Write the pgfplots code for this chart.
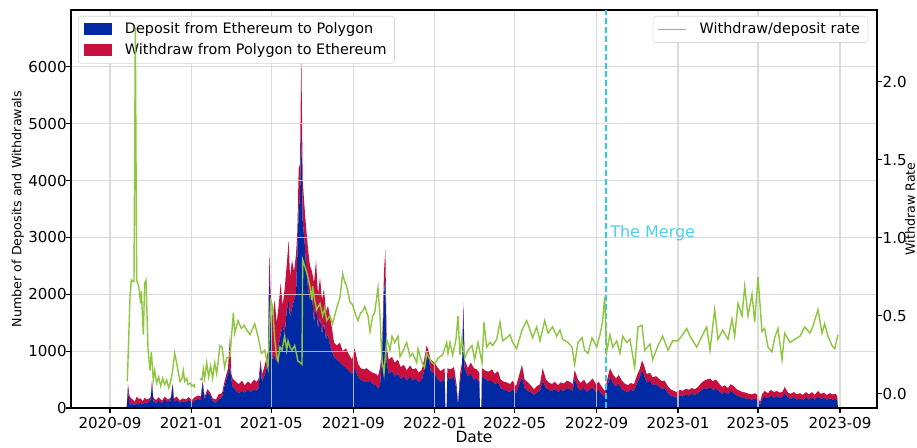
\documentclass[border=0pt]{standalone}
\usepackage{fontspec}
\setmainfont{DejaVu Sans}
\usepackage{pgfplots}
\pgfplotsset{compat=1.18}
\usepackage{pgfplotstable}

\definecolor{depblue}{HTML}{0029A3}
\definecolor{wdred}{HTML}{C8103E}
\definecolor{rategreen}{HTML}{8DC63F}
\definecolor{mergecyan}{HTML}{2EC8EA}
\definecolor{gridgray}{HTML}{D3D3D3}
\definecolor{legframe}{HTML}{D6D6D6}

\newcommand{\ticksize}{\fontsize{11.3}{13}\selectfont}
\newcommand{\legsize}{\fontsize{10.8}{12.5}\selectfont}
\newcommand{\ylabsize}{\fontsize{9.5}{11}\selectfont}

% daily bridge transactions: day = days since 2020-09-01
\pgfplotstableread{
day dep wd
0 0 0
25 0 0
27 350 70
29 80 150
31 60 120
34 70 80
37 50 60
40 80 120
43 60 100
46 90 80
49 70 50
52 100 80
55 80 70
58 100 60
61 140 50
63 450 30
65 120 60
69 90 50
73 130 60
78 80 50
82 150 50
87 100 50
91 130 50
94 400 20
96 110 60
100 140 60
105 90 40
109 120 50
114 100 50
118 140 50
123 90 50
127 130 60
132 160 60
136 140 60
139 440 30
142 150 50
146 280 50
150 230 50
154 120 50
159 90 60
163 160 80
168 180 80
172 400 80
177 600 100
180 740 540
182 500 100
184 380 140
189 300 160
193 260 160
198 300 180
202 270 130
207 320 150
211 280 140
216 330 170
220 300 160
223 350 170
226 790 60
228 450 150
231 550 150
234 650 200
237 900 100
239 2370 370
241 1600 400
244 850 750
247 900 1000
250 800 700
253 1100 700
256 1300 900
259 1450 350
262 1300 800
265 1700 800
268 1900 1050
270 1600 700
273 1750 850
276 1900 500
279 2000 700
281 2700 400
283 3500 700
285 3700 600
287 4900 1350
289 3300 700
292 2900 600
294 2500 700
297 2100 700
300 1900 600
303 2000 400
306 1500 700
309 1800 800
312 1400 600
315 1600 700
318 1300 600
321 1500 600
324 1200 500
327 1300 500
330 1100 500
333 1000 400
336 900 250
340 850 250
345 800 350
349 750 250
354 700 350
358 650 300
363 600 250
367 700 350
372 550 230
376 500 200
381 470 210
385 450 250
390 480 170
394 420 200
399 400 200
402 350 210
405 380 320
408 900 100
411 2000 400
413 2300 500
415 800 300
418 600 250
423 650 250
427 550 250
432 600 250
436 500 220
441 560 200
445 480 180
450 550 200
454 480 200
459 520 180
463 450 170
468 500 180
472 700 200
475 950 150
478 900 100
481 650 200
487 600 200
492 500 200
496 450 200
502 520 180
503 0 0
505 0 0
506 550 150
511 500 180
516 560 160
520 300 100
522 60 20
525 450 150
528 700 100
530 1700 150
532 700 150
537 550 150
541 600 200
546 500 200
550 520 160
554 450 170
555 0 0
557 0 0
558 550 150
564 500 150
568 470 170
573 480 200
577 420 180
582 450 200
586 350 150
591 320 140
595 300 150
600 280 140
604 330 150
609 260 120
613 380 170
618 550 210
622 350 150
627 300 150
631 280 120
636 230 100
640 270 110
645 300 120
649 480 220
654 350 150
658 320 130
663 300 120
667 330 130
672 280 120
676 320 130
681 300 130
685 350 130
690 330 130
694 300 120
697 520 150
702 350 150
706 300 140
711 360 140
715 280 140
720 330 140
724 360 160
729 280 140
733 320 140
738 240 130
742 200 100
747 420 140
750 550 150
754 450 150
759 380 140
763 420 160
768 330 150
772 300 130
777 280 120
781 320 120
786 300 120
790 420 140
795 550 150
798 670 170
801 580 170
805 450 150
810 480 140
814 400 140
819 420 140
823 380 140
828 330 140
832 350 130
837 260 120
841 220 110
846 200 100
850 180 100
855 220 100
859 200 100
864 240 100
868 220 100
873 250 100
877 230 100
882 260 110
886 300 130
891 350 130
895 330 170
900 360 160
904 320 150
909 340 160
913 300 140
918 250 120
922 280 120
927 240 110
931 300 120
936 260 120
940 220 110
945 200 100
949 180 100
954 170 100
958 160 90
963 150 90
967 170 90
972 140 90
975 60 40
978 150 90
982 200 100
987 170 90
991 220 100
996 180 100
1000 210 90
1005 170 100
1009 200 90
1012 260 110
1017 180 90
1021 160 90
1026 190 90
1030 150 90
1035 170 90
1039 140 90
1044 180 100
1048 150 90
1053 190 90
1057 140 90
1062 200 100
1066 160 90
1071 180 90
1075 140 90
1080 170 90
1084 150 90
1089 160 90
1091 130 70
1092 0 0
}\flows

% withdraw/deposit ratio (nan marks days without a value)
\pgfplotstableread{
day rate
26 0.08
30 0.62
32 0.73
35 0.72
36 0.72
38 2.35
40 0.73
43 0.69
46 0.58
47 0.66
50 0.38
52 0.71
54 0.73
57 0.29
60 0.15
62 0.27
65 0.09
67 0.15
70 0.07
73 0.11
76 0.05
79 0.10
82 0.06
85 0.09
88 0.04
91 0.08
94 0.15
97 0.26
100 0.20
102 0.15
105 0.08
108 0.10
110 0.15
112 0.08
115 0.10
117 0.06
120 0.07
123 0.05
126 0.06
127 0.04
129 nan
135 0.10
138 0.09
140 0.16
142 0.10
145 0.20
148 0.11
151 0.18
154 0.10
157 0.20
160 0.13
165 0.31
168 0.30
172 0.17
175 0.23
180 0.24
185 0.52
187 0.39
192 0.47
197 0.42
201 0.44
205 0.41
210 0.38
214 0.42
217 0.45
222 0.37
227 0.26
232 0.28
237 0.17
241 0.60
244 0.56
247 0.35
250 0.24
252 0.21
255 0.30
258 0.28
262 0.37
265 0.28
267 0.34
270 0.30
273 0.28
277 0.31
282 0.21
286 0.20
288 0.19
289 0.86
292 0.82
295 0.78
300 0.69
303 0.60
304 0.69
307 0.60
310 0.54
315 0.58
319 0.50
322 0.55
325 0.47
330 0.50
334 0.45
340 0.55
345 0.62
349 0.77
352 0.72
355 0.69
360 0.59
364 0.57
369 0.50
372 0.47
376 0.52
379 0.53
382 0.56
387 0.50
390 0.40
394 0.50
397 0.52
402 0.68
405 0.50
408 0.22
411 0.13
415 0.35
420 0.28
423 0.37
427 0.33
432 0.37
435 0.24
439 0.27
445 0.33
450 0.24
454 0.26
460 0.20
462 0.29
468 0.20
472 0.17
475 0.26
480 0.22
483 0.20
487 0.19
492 0.23
499 0.25
505 0.33
507 0.26
510 0.33
514 0.25
519 0.35
522 0.50
525 0.25
528 0.36
532 0.23
537 0.28
543 0.31
547 0.22
552 0.33
558 0.20
561 0.46
565 0.30
570 0.33
574 0.31
580 0.35
585 0.46
589 0.34
595 0.36
600 0.38
604 0.33
610 0.29
618 0.41
625 0.47
630 0.41
634 0.36
640 0.43
645 0.34
652 0.47
657 0.39
664 0.43
670 0.37
675 0.41
679 0.35
687 0.33
693 0.30
697 0.19
702 0.33
708 0.36
712 0.28
717 0.26
723 0.36
730 0.30
735 0.38
739 0.47
742 0.62
745 0.27
750 0.38
754 0.30
760 0.34
765 0.26
769 0.37
775 0.33
780 0.35
787 0.17
792 0.43
798 0.44
802 0.28
810 0.32
814 0.22
822 0.31
829 0.37
837 0.28
844 0.34
852 0.34
859 0.38
865 0.42
870 0.37
880 0.30
888 0.37
895 0.43
900 0.28
907 0.54
912 0.35
919 0.41
927 0.35
933 0.48
937 0.37
942 0.58
948 0.50
952 0.69
957 0.50
963 0.64
967 0.46
972 0.75
978 0.40
982 0.42
987 0.30
993 0.27
997 0.36
1002 0.42
1008 0.22
1012 0.39
1020 0.33
1027 0.35
1035 0.37
1042 0.43
1050 0.39
1054 0.43
1062 0.54
1068 0.39
1072 0.45
1077 0.37
1083 0.31
1087 0.29
1092 0.38
}\ratedata

\pgfplotsset{
  common/.style={
    at={(53.25pt,29.25pt)}, anchor=south west,
    scale only axis, width=604.5pt, height=298.5pt,
    xmin=-58.5, xmax=1150.5,
    tick align=outside,
    major tick length=3.75pt,
    tick style={black, line width=0.8pt},
    axis line style={line width=1pt},
    ticklabel style={font=\ticksize},
    /pgf/number format/assume math mode=true,
  },
  boxlegend/.style={draw=legframe, rounded corners=2pt, fill=white,
    font=\legsize, inner xsep=4pt, inner ysep=3pt},
}

\begin{document}
\begin{tikzpicture}
\useasboundingbox (0,0) rectangle (687.75pt,335.25pt);

\begin{axis}[
  common,
  ymin=0, ymax=7000,
  axis on top,
  stack plots=y,
  xtick={0,122,242,365,487,607,730,852,972,1095},
  xticklabels={2020-09,2021-01,2021-05,2021-09,2022-01,2022-05,2022-09,2023-01,2023-05,2023-09},
  ytick={0,1000,2000,3000,4000,5000,6000},
  scaled y ticks=false,
  yticklabel style={font=\ticksize, xshift=4pt, /pgf/number format/1000 sep={}},
  xtick pos=bottom, ytick pos=left,
  grid=major,
  grid style={gridgray, line width=0.8pt, opacity=0.8},
  xlabel={Date},
  xlabel style={at={(axis description cs:0.5,-0.0729)}, anchor=center, font=\fontsize{11.6}{13}\selectfont},
  ylabel={Number of Deposits and Withdrawals},
  ylabel style={at={(axis description cs:-0.0658,0.5)}, anchor=center, rotate=0, font=\ylabsize},
  legend style={at={(0.0087,0.985)}, anchor=north west, boxlegend, row sep=2pt},
  legend cell align=left,
  legend image code/.code={%
    \path[draw=none, fill=none] (0pt,0pt) (29pt,0pt);
    \fill[#1, draw=none, sharp corners] (0pt,-4.5pt) rectangle (21pt,4.5pt);},
]
\addplot[fill=depblue, draw=none] table[x=day, y=dep] {\flows} \closedcycle;
\addlegendentry{Deposit from Ethereum to Polygon}
\addplot[fill=wdred, draw=none] table[x=day, y=wd] {\flows} \closedcycle;
\addlegendentry{Withdraw from Polygon to Ethereum}
\end{axis}

\begin{axis}[
  common,
  ymin=-0.09, ymax=2.46,
  hide x axis,
  axis y line*=right,
  ytick={0,0.5,1,1.5,2},
  yticklabel style={font=\ticksize, xshift=-3pt, /pgf/number format/.cd, fixed, fixed zerofill, precision=1},
  ylabel={Withdraw Rate},
  ylabel style={at={(axis description cs:1.041,0.5)}, anchor=center, rotate=0, font=\ylabsize},
  legend style={at={(0.989,0.985)}, anchor=north east, boxlegend},
  legend image code/.code={%
    \path[draw=none, fill=none] (0pt,0pt) (29pt,0pt);
    \fill[rategreen, draw=none, sharp corners] (0pt,-0.6pt) rectangle (21pt,0.6pt);},
]
\draw[mergecyan, dash pattern=on 4.5pt off 2.2pt, line width=1.1pt]
  (axis cs:744,-0.09) -- (axis cs:744,2.46);
\node[anchor=west, text=mergecyan!85!white, font=\fontsize{12}{14}\selectfont, inner sep=1pt]
  at (axis cs:748,1.03) {The Merge};
\addplot[color=rategreen, line width=1.05pt, unbounded coords=jump] table[x=day, y=rate] {\ratedata};
\addlegendentry{Withdraw/deposit rate}
\end{axis}
\end{tikzpicture}
\end{document}
